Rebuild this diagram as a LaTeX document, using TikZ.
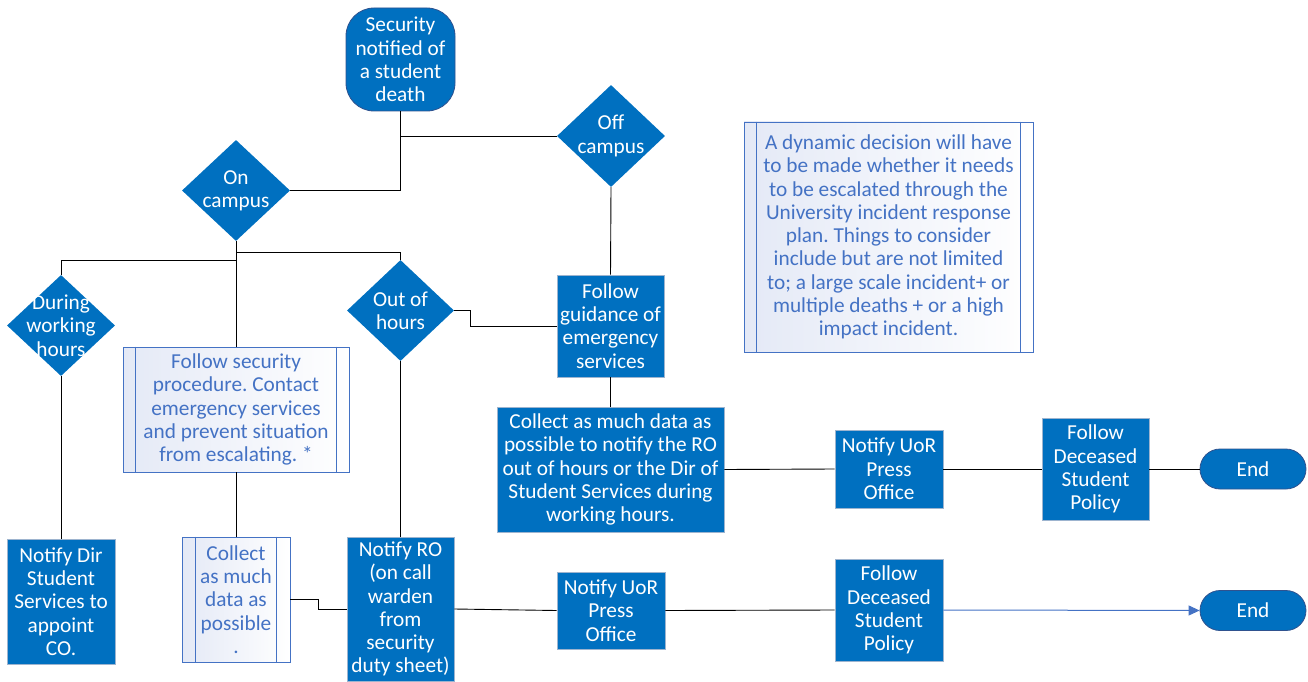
\documentclass[tikz,border=0pt]{standalone}
\usepackage{fontspec}
\setmainfont{Carlito}
\usetikzlibrary{shapes.geometric,arrows.meta}
\definecolor{nodeblue}{HTML}{0070C0}
\definecolor{edgeblue}{HTML}{9DB4CF}
\definecolor{darkedge}{HTML}{2F528F}
\definecolor{noteblue}{HTML}{4472C4}
\definecolor{notefill}{HTML}{E4E9F6}
\frenchspacing
\tikzset{
  txt/.style={font=\fontsize{21.3}{23.3}\selectfont\frenchspacing, align=center},
  bluebox/.style={rectangle, fill=nodeblue, draw=edgeblue, line width=0.8pt, text=white, txt, inner sep=0pt},
  roundbox/.style={rectangle, rounded corners=#1, fill=nodeblue, draw=darkedge, line width=0.8pt, text=white, txt, inner sep=0pt},
  diam/.style={diamond, fill=nodeblue, draw=none, inner sep=0pt, minimum width=108, minimum height=101},
  dlabel/.style={txt, text=white},
  notebox/.style={rectangle, draw=noteblue, line width=0.8pt, left color=notefill, right color=white, text=noteblue, txt, inner sep=0pt},
  conn/.style={draw=black, line width=0.9pt},
  bluearrow/.style={draw=noteblue, line width=1pt, -{Triangle[length=11pt,width=10pt]}}
}
\begin{document}
\begin{tikzpicture}[x=1pt,y=-1pt]
\useasboundingbox (0,0) rectangle (1308,682);

% nodes
\node[roundbox=28, minimum width=109, minimum height=103] (start) at (400.5,59.5) {Security\\notified of\\a student\\death};
\node[diam, label={[dlabel]center:On\\campus}] (oncampus) at (236,190.5) {};
\node[diam, minimum height=102, label={[dlabel]center:Off\\campus}] (offcampus) at (611,136) {};
\node[diam, label={[dlabel]center:During\\working\\hours}] (during) at (61,325.5) {};
\node[diam, minimum width=107, label={[dlabel]center:Out of\\hours}] (outhours) at (400.5,310.5) {};

\node[notebox, minimum width=226, minimum height=125] (followsec) at (236,409.5) {Follow security\\procedure. Contact\\emergency services\\and prevent situation\\from escalating. *};
\node[bluebox, minimum width=107, minimum height=102] (guidance) at (610.5,326) {Follow\\guidance of\\emergency\\services};
\node[bluebox, minimum width=227, minimum height=125] (collectbig) at (610.5,469.5) {Collect as much data as\\possible to notify the RO\\out of hours or the Dir of\\Student Services during\\working hours.};
\node[notebox, minimum width=289, minimum height=230] (note) at (888.5,237) {A dynamic decision will have\\to be made whether it needs\\to be escalated through the\\University incident response\\plan. Things to consider\\include but are not limited\\to; a large scale incident+ or\\multiple deaths + or a high\\impact incident.};

\node[bluebox, minimum width=108, minimum height=78] (press1) at (889,469) {Notify UoR\\Press\\Office};
\node[bluebox, minimum width=107, minimum height=102] (follow1) at (1095.5,469) {Follow\\Deceased\\Student\\Policy};
\node[roundbox=20, minimum width=106, minimum height=40] (end1) at (1253,469) {End};

\node[bluebox, minimum width=108, minimum height=125] (notifydir) at (61,601.5) {Notify Dir\\Student\\Services to\\appoint\\CO.};
\node[notebox, minimum width=108, minimum height=125] (collectsm) at (236,599.5) {Collect\\as much\\data as\\possible\\.};
\node[bluebox, minimum width=107, minimum height=144] (notifyro) at (400.5,609) {Notify RO\\(on call\\warden\\from\\security\\duty sheet)};
\node[bluebox, minimum width=108, minimum height=77] (press2) at (611,610.5) {Notify UoR\\Press\\Office};
\node[bluebox, minimum width=108, minimum height=102] (follow2) at (889,610) {Follow\\Deceased\\Student\\Policy};
\node[roundbox=20, minimum width=106, minimum height=40] (end2) at (1253,610.5) {End};

% inner lines of the light boxes
\foreach \n/\d in {followsec/13, note/13, collectsm/14}{
  \draw[noteblue, line width=0.8pt] ([xshift=\d]\n.north west) -- ([xshift=\d]\n.south west);
  \draw[noteblue, line width=0.8pt] ([xshift=-\d]\n.north east) -- ([xshift=-\d]\n.south east);
}

% connectors
\draw[conn] (start.south) |- (oncampus.east);
\draw[conn] (start.south) |- (offcampus.west);
\draw[conn] (oncampus.south) -- ++(0,11) -| (outhours.north);
\draw[conn] (oncampus.south) -- ++(0,19) -| (during.north);
\draw[conn] (oncampus.south) -- (followsec.north);
\draw[conn] (during.south) -- (notifydir.north);
\draw[conn] (followsec.south) -- (collectsm.north);
\draw[conn] (outhours.south) -- (notifyro.north);
\draw[conn] (outhours.east) -- ++(16,0) |- (guidance.west);
\draw[conn] (offcampus.south) -- (guidance.north);
\draw[conn] (guidance.south) -- (collectbig.north);
\draw[conn] (collectbig.east) -- (press1.west);
\draw[conn] (press1.east) -- (follow1.west);
\draw[conn] (follow1.east) -- (end1.west);
\draw[conn] (collectsm.east) -- ++(28,0) |- (notifyro.west);
\draw[conn] (notifyro.east) -- (press2.west);
\draw[conn] (press2.east) -- (follow2.west);
\draw[bluearrow] (follow2.east) -- (end2.west);
\end{tikzpicture}
\end{document}
